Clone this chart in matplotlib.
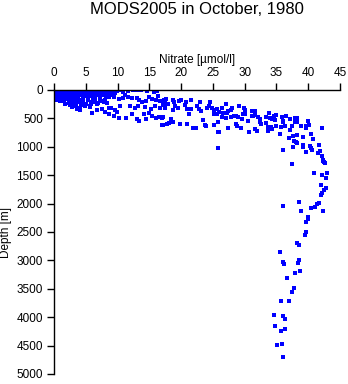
import matplotlib
matplotlib.use('Agg')
import matplotlib.pyplot as plt

plt.rcParams['font.family'] = ['Liberation Sans', 'DejaVu Sans']

# nitrate [umol/l] and depth [m]
# surface band
nitrate_surf = [0.1, 0.3, 0.5, 0.2, 0.6, 0.9, 1.0, 1.2, 1.4, 1.6, 1.8, 2.0, 2.2, 2.4, 2.6, 2.8,
                3.0, 3.2, 3.4, 3.6, 3.8, 4.0, 4.2, 4.4, 4.6, 4.8, 5.0, 5.2, 5.4, 5.6, 5.8, 6.0,
                6.2, 6.5, 6.8, 7.0, 7.2, 7.5, 7.8, 8.0, 8.3, 8.6, 9.0, 0.4, 1.1, 0.8, 2.9, 4.5,
                6.3, 1.5, 2.1, 3.7, 5.1, 6.6, 7.9,
                0.2, 0.7, 1.3, 1.9, 2.5, 3.1, 3.5, 4.1, 4.7, 5.3, 5.9, 6.4, 7.1, 7.7, 8.4,
                0.5, 1.0, 1.7, 2.3, 2.7, 3.3, 3.9, 4.3, 4.9, 5.5, 6.1, 6.9, 7.4, 8.2, 8.8,
                0.3, 0.9, 1.4, 0.1, 0.6, 1.2, 2.0, 9.3, 9.6]
depth_surf = [10, 40, 20, 80, 60, 30, 90, 10, 50, 100, 30, 70, 120, 20, 60, 90,
              40, 110, 10, 70, 130, 30, 90, 50, 140, 10, 80, 40, 120, 20, 60, 100,
              30, 70, 10, 50, 110, 30, 80, 0, 60, 20, 90, 130, 150, 5, 0, 0,
              0, 0, 40, 20, 10, 40, 30,
              100, 120, 80, 130, 40, 80, 150, 60, 110, 140, 30, 130, 90, 60, 100,
              0, 60, 20, 90, 130, 0, 50, 10, 30, 100, 80, 20, 0, 120, 50,
              170, 190, 140, 150, 110, 0, 0, 20, 60]

# upper layer, low nitrate
nitrate_upper = [1.0, 1.5, 2.0, 2.3, 2.6, 3.0, 3.2, 3.5, 3.8, 4.0, 4.3, 4.6, 5.0, 5.3, 5.6, 6.0,
                 6.4, 6.8, 7.2, 7.6, 8.0, 8.4, 2.8, 3.6, 4.1, 3.9,
                 6.5, 7.3, 7.8, 6.7, 7.5, 8.1, 8.7, 6.0, 5.7, 4.1,
                 1.8, 2.5, 3.3, 4.4, 4.8, 5.9, 6.2, 7.0]
depth_upper = [170, 200, 160, 230, 190, 250, 180, 280, 220, 170, 260, 200, 240, 170, 290, 210,
               180, 250, 160, 200, 170, 230, 300, 330, 350, 310,
               206, 176, 206, 352, 335, 382, 323, 411, 294, 323,
               240, 260, 210, 230, 280, 250, 150, 230]

# nitracline, 8-17 umol/l
nitrate_mid = [8.3, 9.1, 9.5, 9.9, 10.6, 10.9, 11.2, 11.7, 12.4, 13.1, 13.7, 14.6, 15.7, 16.2,
               8.6, 9.4, 10.2, 10.9, 11.7, 12.3, 13.1, 13.4, 13.8, 14.4, 14.9, 15.4, 16.0, 16.4,
               16.7, 17.3,
               9.0, 9.6, 10.4, 12.0, 12.8, 13.2, 14.3, 15.2, 15.9, 16.7, 17.1,
               8.6, 9.4, 9.9, 10.2, 11.3, 12.3, 13.1, 13.3, 14.4, 15.0, 15.4, 16.0, 16.5, 17.0,
               14.1, 17.0]
depth_mid = [18, 0, 40, 18, 5, 40, 88, 18, 0, 5, 5, 12, 40, 12,
             118, 118, 158, 146, 118, 146, 136, 176, 206, 194, 118, 158, 176, 106,
             194, 176,
             311, 352, 276, 276, 323, 276, 294, 335, 276, 323, 264,
             428, 452, 393, 499, 487, 417, 511, 546, 511, 411, 452, 499, 475, 487,
             428, 616]

# 17-26 umol/l
nitrate_b = [17.7, 17.5, 17.3, 17.5, 17.9, 18.7, 18.9, 19.1, 19.6, 20.0, 18.7, 19.5,
             20.8, 20.6, 21.5, 21.0, 21.6, 21.2, 22.5, 22.9, 22.8, 23.2,
             17.1, 18.4, 18.7, 17.2, 17.8, 18.1, 19.8, 21.0, 21.8, 22.4,
             23.5, 23.7, 23.9, 24.5, 24.4, 24.0, 24.8, 25.2, 25.1, 25.1, 25.8, 25.9]
depth_b = [158, 194, 252, 311, 252, 176, 217, 276, 194, 182, 346, 323,
           217, 264, 182, 340, 340, 428, 276, 217, 335, 370,
           475, 516, 557, 616, 599, 575, 604, 599, 675, 663,
           534, 616, 640, 217, 276, 311, 323, 346, 428, 616, 557, 734]

# 25-35 umol/l
nitrate_c = [27.0, 25.7, 26.0, 25.6, 26.5, 26.4, 26.6, 27.2, 27.4, 28.0, 27.9,
             27.0, 27.8, 28.3, 29.1, 28.7, 29.0, 29.9, 30.0, 29.7, 30.0, 29.6, 30.5,
             31.2, 31.6, 31.1, 31.3, 31.7, 32.1, 32.4, 33.3, 33.8, 34.0, 34.5, 34.6,
             32.5, 32.4, 33.4, 33.7, 34.2, 28.7, 28.8, 27.3, 29.5, 30.7, 31.6, 31.9,
             33.7, 25.8, 25.8]
depth_c = [246, 340, 382, 417, 311, 475, 405, 399, 370, 311, 352,
           499, 475, 458, 288, 458, 470, 323, 358, 417, 428, 516, 540,
           364, 370, 458, 464, 440, 475, 511, 475, 405, 499, 516, 464,
           599, 569, 581, 646, 663, 604, 634, 663, 675, 745, 693, 716,
           722, 734, 1015]

# bend of the profile, 34-43 umol/l
nitrate_d = [34.9, 34.3, 34.7, 35.8, 36.5, 36.0, 36.1, 37.2, 37.9, 38.2, 37.9, 38.3,
             40.0, 34.2, 34.3, 35.0, 35.7, 36.3, 37.4, 38.9, 39.7, 40.1, 39.6, 42.2,
             37.1, 35.5, 37.6, 38.3, 36.9, 39.2, 40.5, 40.7, 37.7, 38.1, 38.2, 37.6,
             39.1, 39.2, 36.1, 40.3, 40.4, 40.6, 41.7, 39.7, 41.5, 41.8, 42.1, 42.3,
             42.5, 42.7]
depth_d = [440, 516, 533, 470, 458, 546, 569, 516, 499, 499, 569, 569,
           552, 651, 681, 628, 646, 640, 628, 628, 628, 622, 675, 675,
           710, 775, 816, 798, 851, 833, 775, 862, 892, 909, 927, 1004,
           974, 998, 1051, 992, 1027, 1062, 974, 1097, 1104, 1074, 1162, 1238,
           1268, 1285]

# deep water
nitrate_deep = [37.4, 42.4, 42.6, 40.9, 42.2, 42.9, 42.8, 42.0, 42.8, 42.5, 42.1, 42.0,
                36.1, 38.6, 41.7, 41.4, 41.1, 38.8, 40.4, 42.3, 39.9, 40.0, 39.7, 39.6,
                39.5, 38.3, 38.6, 35.6, 36.1, 36.2, 38.6, 38.4, 38.7, 37.9, 36.7, 37.8,
                37.5, 35.7, 36.9, 34.6, 36.1, 36.4, 34.8, 36.4, 35.7, 35.1, 35.9, 36.0]
depth_deep = [1308, 1245, 1291, 1456, 1502, 1456, 1544, 1673, 1731, 1761, 1819, 1854,
              2042, 1966, 1984, 2007, 2054, 2136, 2083, 2136, 2230, 2276, 2324, 2500,
              2553, 2694, 2723, 2852, 3022, 3069, 2993, 3052, 3181, 3216, 3304, 3492,
              3562, 3721, 3709, 3967, 3979, 4037, 4155, 4208, 4249, 4484, 4478, 4706]

nitrate = (nitrate_surf + nitrate_upper + nitrate_mid + nitrate_b + nitrate_c
           + nitrate_d + nitrate_deep)
depth = (depth_surf + depth_upper + depth_mid + depth_b + depth_c
         + depth_d + depth_deep)

fig = plt.figure(figsize=(3.48, 3.84), dpi=100)
ax = fig.add_axes([54 / 348, 1 - 374 / 384, 286 / 348, 284 / 384])

ax.plot(nitrate, depth, 's', color='#0000ff', markersize=2.4, markeredgewidth=0)

ax.set_xlim(0, 45)
ax.set_ylim(5000, 0)
ax.set_xticks(range(0, 46, 5))
ax.set_yticks(range(0, 5001, 500))

ax.xaxis.tick_top()
ax.xaxis.set_label_position('top')
ax.spines['right'].set_visible(False)
ax.spines['bottom'].set_visible(False)
for s in ['top', 'left']:
    ax.spines[s].set_linewidth(1.0)
ax.tick_params(direction='out', length=5, width=1.0, labelsize=8.5, pad=3)

ax.set_xlabel('Nitrate [\u00b5mol/l]', fontsize=8.5, labelpad=3)
ax.set_ylabel('Depth [m]', fontsize=8.5, labelpad=3)

fig.text(197 / 348, 1 - 10 / 384, 'MODS2005 in October, 1980', ha='center', va='center',
         fontsize=12)

fig.savefig('out.png', dpi=100)
